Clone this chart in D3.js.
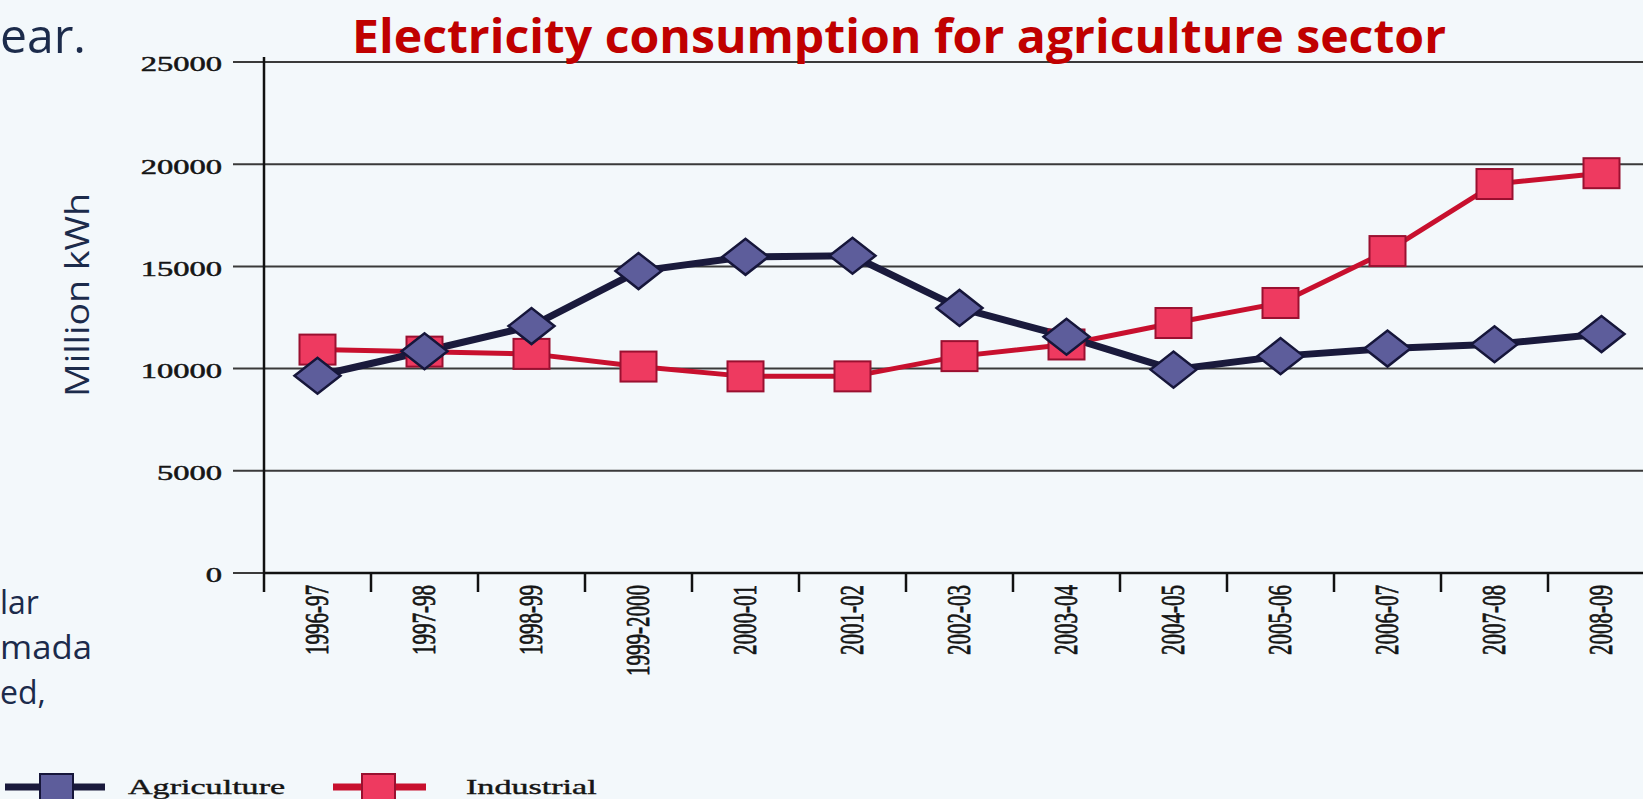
<!DOCTYPE html>
<html><head><meta charset="utf-8">
<script src="https://cdn.jsdelivr.net/npm/d3@7"></script>
<style>
html,body{margin:0;padding:0;background:#f3f8fb;overflow:hidden;}
svg{display:block;}
</style></head>
<body><svg id="c" width="1643" height="799"></svg>
<script>
const categories = ["1996-97","1997-98","1998-99","1999-2000","2000-01","2001-02","2002-03","2003-04","2004-05","2005-06","2006-07","2007-08","2008-09"];
const agriculture = [9650, 10850, 12080, 14770, 15470, 15520, 12970, 11560, 9950, 10610, 10980, 11190, 11690];
const industrial = [10930, 10830, 10720, 10100, 9620, 9620, 10610, 11180, 12230, 13210, 15750, 19030, 19560];
const yTicks = [0, 5000, 10000, 15000, 20000, 25000];
const seriesNames = ["Agriculture", "Industrial"];
const titleText = "Electricity consumption for agriculture sector";
const yAxisTitle = "Million kWh";

const svg = d3.select("#c");
const W = 1643, H = 799;
svg.append("rect").attr("width", W).attr("height", H).attr("fill", "#f3f8fb");

const x0 = 264, step = 107;
const x = d3.scaleBand().domain(categories).range([x0, x0 + step * categories.length]).padding(0);
const y = d3.scaleLinear().domain([0, 25000]).range([573, 62]);
const SX = 1.55; // horizontal stretch of scanned figure
const serif = "'Liberation Serif','Times New Roman',serif";

// gridlines
svg.append("g").selectAll("line").data(yTicks).join("line")
  .attr("x1", 233).attr("x2", W)
  .attr("y1", d => y(d)).attr("y2", d => y(d))
  .attr("stroke", "#3a3a3a").attr("stroke-width", 2);

// y axis line
svg.append("line").attr("x1", x0).attr("x2", x0).attr("y1", 57).attr("y2", 592)
  .attr("stroke", "#111").attr("stroke-width", 2.5);
// x axis line
svg.append("line").attr("x1", x0).attr("x2", W).attr("y1", y(0)).attr("y2", y(0))
  .attr("stroke", "#111").attr("stroke-width", 2.5);

// x ticks at band boundaries
svg.append("g").selectAll("line").data(categories.slice(1)).join("line")
  .attr("x1", d => x(d)).attr("x2", d => x(d))
  .attr("y1", y(0)).attr("y2", y(0) + 19)
  .attr("stroke", "#111").attr("stroke-width", 2.5);

// y tick labels
svg.append("g").selectAll("text").data(yTicks).join("text")
  .attr("transform", d => `translate(222,${y(d)}) scale(${SX},1)`)
  .attr("dy", "0.45em").attr("text-anchor", "end")
  .attr("font-family", serif).attr("font-size", 21)
  .attr("fill", "#151515").attr("stroke", "#151515").attr("stroke-width", 0.5)
  .text(d => d);

// x tick labels
svg.append("g").selectAll("text").data(categories).join("text")
  .attr("transform", d => `translate(${x(d) + x.bandwidth() / 2 - 1},585) scale(1.6,1) rotate(-90)`)
  .attr("dy", "0.33em").attr("text-anchor", "end")
  .attr("font-family", serif).attr("font-size", 21)
  .attr("fill", "#151515").attr("stroke", "#151515").attr("stroke-width", 0.5)
  .text(d => d);

const cx = (d, i) => x(categories[i]) + x.bandwidth() / 2;
const line = d3.line().x((d, i) => cx(d, i)).y(d => y(d));

// industrial
svg.append("path").datum(industrial).attr("d", line)
  .attr("fill", "none").attr("stroke", "#c8102e").attr("stroke-width", 5).attr("stroke-linejoin", "round");
// agriculture
svg.append("path").datum(agriculture).attr("d", line)
  .attr("fill", "none").attr("stroke", "#1a1a3c").attr("stroke-width", 7).attr("stroke-linejoin", "round");

// industrial squares
svg.append("g").selectAll("rect").data(industrial).join("rect")
  .attr("x", (d, i) => cx(d, i) - 18).attr("y", d => y(d) - 15)
  .attr("width", 36).attr("height", 30)
  .attr("fill", "#ee3a60").attr("stroke", "#9a1030").attr("stroke-width", 2);

// agriculture diamonds
svg.append("g").selectAll("path").data(agriculture).join("path")
  .attr("d", (d, i) => {
    const px = cx(d, i), py = y(d);
    return `M${px - 23},${py} L${px},${py - 18} L${px + 23},${py} L${px},${py + 18} Z`;
  })
  .attr("fill", "#5d5d9b").attr("stroke", "#16163a").attr("stroke-width", 2.5);

// legend
const leg = svg.append("g");
const legItems = [
  {name: seriesNames[0], x1: 5, x2: 105, rx: 40, line: "#1a1a3c", fill: "#5d5d9b", stroke: "#16163a", tx: 128},
  {name: seriesNames[1], x1: 333, x2: 426, rx: 362, line: "#c8102e", fill: "#ee3a60", stroke: "#9a1030", tx: 466}
];
legItems.forEach(it => {
  leg.append("line").attr("x1", it.x1).attr("x2", it.x2).attr("y1", 787).attr("y2", 787)
    .attr("stroke", it.line).attr("stroke-width", 7);
  leg.append("rect").attr("x", it.rx).attr("y", 774).attr("width", 33).attr("height", 26)
    .attr("fill", it.fill).attr("stroke", it.stroke).attr("stroke-width", 2);
  leg.append("text").attr("transform", `translate(${it.tx},794) scale(${SX},1)`)
    .attr("font-family", serif).attr("font-size", 22)
    .attr("fill", "#151515").attr("stroke", "#151515").attr("stroke-width", 0.4)
    .text(it.name);
});

// title
svg.append("text").attr("x", 352).attr("y", 53)
  .attr("font-family", "'Open Sans','Noto Sans',sans-serif").attr("font-weight", 700)
  .attr("font-size", 46).attr("fill", "#c00000")
  .attr("textLength", 1094).attr("lengthAdjust", "spacingAndGlyphs")
  .text(titleText);

// y axis title
svg.append("text").attr("transform", "translate(89,295) rotate(-90)")
  .attr("text-anchor", "middle")
  .attr("font-family", "'Open Sans','Noto Sans',sans-serif")
  .attr("font-size", 33).attr("fill", "#1c2b4b")
  .attr("textLength", 204).attr("lengthAdjust", "spacingAndGlyphs")
  .text(yAxisTitle);

// slide fragments on the left edge
const sans = "'Open Sans','Noto Sans',sans-serif";
svg.append("text").attr("x", 0).attr("y", 53).attr("font-family", sans)
  .attr("font-size", 48).attr("fill", "#1c2b4b")
  .attr("textLength", 86).attr("lengthAdjust", "spacingAndGlyphs").text("ear.");
[["lar", 614], ["mada", 659], ["ed,", 704]].forEach(([t, by]) => {
  svg.append("text").attr("x", 0).attr("y", by).attr("font-family", sans)
    .attr("font-size", 32).attr("fill", "#1c2b4b")
    .attr("textLength", t === "mada" ? 92 : null).attr("lengthAdjust", "spacingAndGlyphs")
    .text(t);
});
</script></body></html>
